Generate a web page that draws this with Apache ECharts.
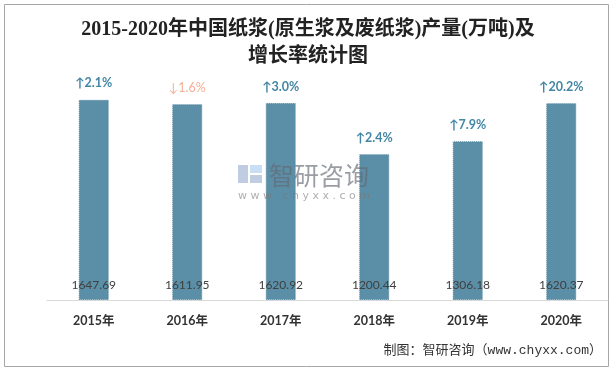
<!DOCTYPE html>
<html><head><meta charset="utf-8">
<script src="https://cdn.jsdelivr.net/npm/echarts@6/dist/echarts.min.js"></script>
<style>html,body{margin:0;padding:0;background:#fff}#c{width:616px;height:370px}</style>
</head><body><div id="c"></div>
<script>
const categories = ['2015年','2016年','2017年','2018年','2019年','2020年'];
const production = [1647.69, 1611.95, 1620.92, 1200.44, 1306.18, 1620.37];
const growth = [2.1, -1.6, 3.0, 2.4, 7.9, 20.2];
const growthText = ['2.1%','1.6%','3.0%','2.4%','7.9%','20.2%'];

const chart = echarts.init(document.getElementById('c'), null, {renderer:'canvas'});
chart.setOption({
  backgroundColor:'#fff',
  animation:false,
  title:{
    text:'2015-2020年中国纸浆(原生浆及废纸浆)产量(万吨)及\n增长率统计图',
    left:'center', top:11,
    textStyle:{fontFamily:'"Liberation Serif", "Noto Sans CJK SC"', fontSize:20, fontWeight:'bold', color:'#222', lineHeight:27}
  },
  grid:{left:47, right:8, top:57, bottom:70},
  xAxis:{
    type:'category', data:categories,
    axisLine:{lineStyle:{color:'#d9d9d9'}},
    axisTick:{show:false},
    axisLabel:{margin:15, fontFamily:'Lato, "Noto Sans CJK SC", sans-serif', fontWeight:'bold', fontSize:12.5, color:'#333'}
  },
  yAxis:{type:'value', min:0, max:2000, show:false, splitLine:{show:false}},
  series:[
    {
      type:'bar', data:production, barWidth:30,
      itemStyle:{color:'#5b8fa7', borderColor:'#5387a0', borderWidth:1, borderType:'dotted'},
      label:{show:true, position:'insideBottom', distance:9, fontFamily:'Lato, "Open Sans", sans-serif', fontSize:12, color:'#404040',
        formatter:p=>p.value.toFixed(2)}
    },
    {
      type:'scatter', data:production, symbolSize:0, z:5,
      label:{show:true, position:'top', distance:10,
        formatter:p=>{const g=growth[p.dataIndex]; return g>=0?'{up|↑'+growthText[p.dataIndex]+'}':'{down|↓'+growthText[p.dataIndex]+'}';},
        rich:{
          up:{fontFamily:'Lato, "DejaVu Sans", sans-serif', fontSize:12.5, fontWeight:'bold', color:'#13688f'},
          down:{fontFamily:'Lato, "DejaVu Sans", sans-serif', fontSize:12.5, color:'#f39a7b'}
        }
      }
    }
  ],
  graphic:[
    {type:'rect', shape:{x:4.5,y:4.5,width:604,height:362}, style:{fill:null, stroke:'#a6a6a6', lineWidth:1}, silent:true, z:0},
    {type:'group', left:238, top:165, z:100, silent:true, children:[
      {type:'rect', shape:{x:0,y:0,width:10,height:18}, style:{fill:'rgba(150,170,205,0.6)'}},
      {type:'rect', shape:{x:12,y:0,width:12,height:8}, style:{fill:'rgba(165,200,235,0.6)'}},
      {type:'rect', shape:{x:12,y:10,width:12,height:8}, style:{fill:'rgba(150,170,205,0.6)'}}
    ]},
    {type:'text', left:269, top:163, z:100, silent:true,
      style:{text:'智研咨询', fontFamily:'"Noto Sans CJK SC"', fontSize:25, fill:'rgba(100,105,115,0.65)'}},
    {type:'text', left:238, top:191, z:100, silent:true,
      style:{text:'w w w . c h y x x . c o m', fontFamily:'"DejaVu Sans"', fontSize:11, fill:'rgba(120,120,120,0.6)'}},
    {type:'text', right:14, top:344, z:100, silent:true,
      style:{text:'制图：智研咨询（www.chyxx.com）', fontFamily:'"Liberation Mono", "Noto Sans CJK SC"', fontSize:13, fill:'#333'}}
  ]
});
</script></body></html>
